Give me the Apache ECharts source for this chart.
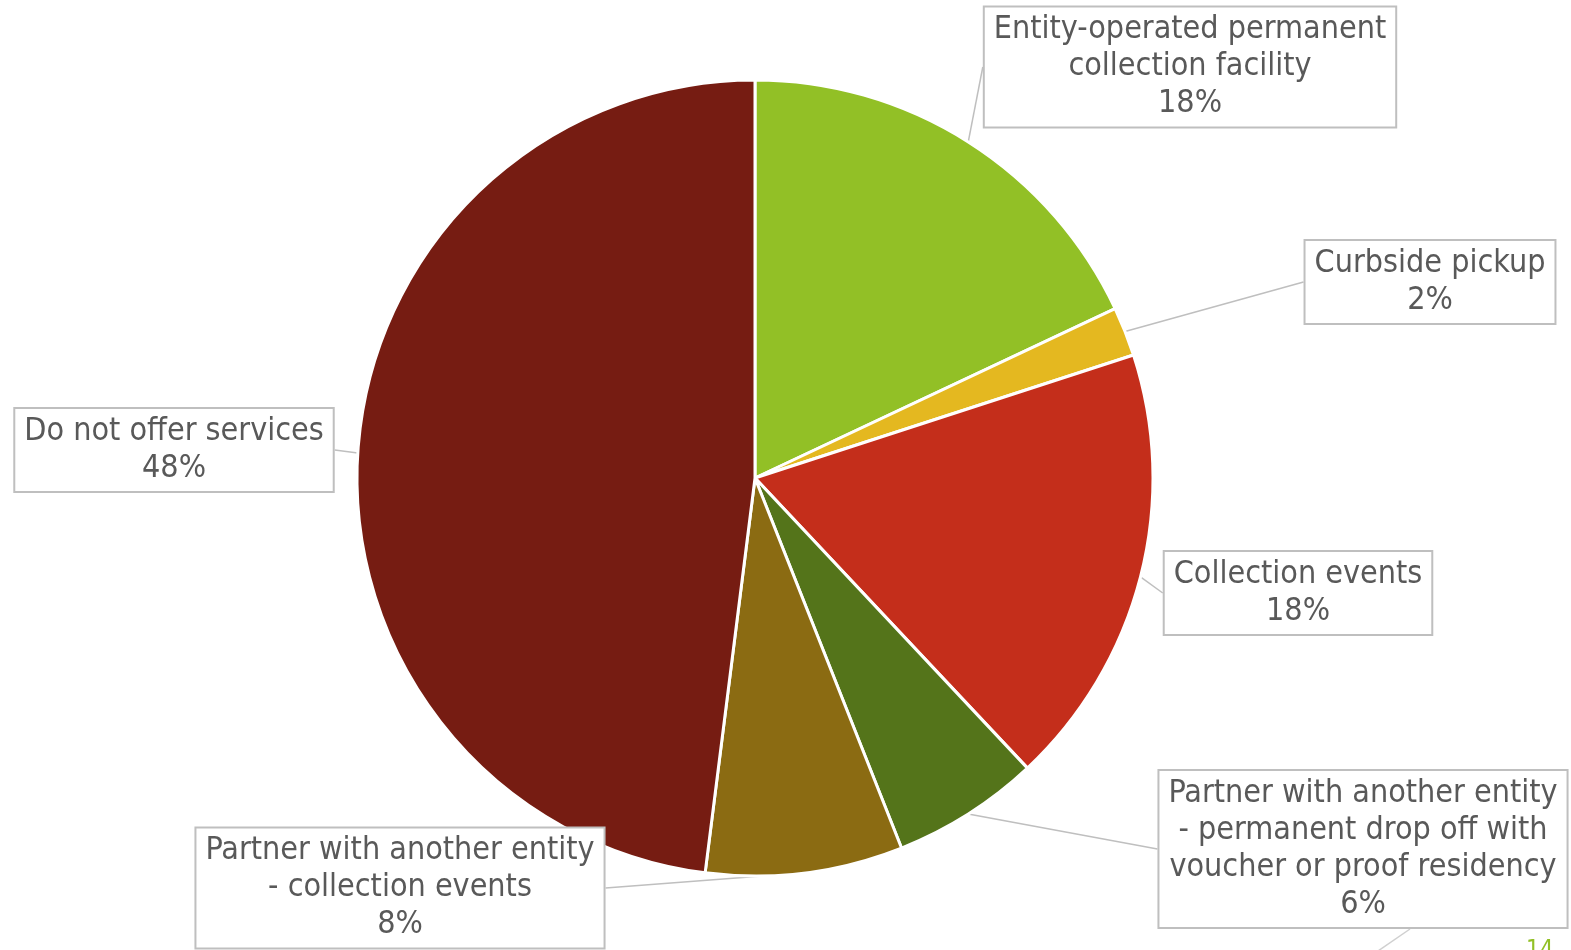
<!DOCTYPE html>
<html>
<head>
<meta charset="utf-8">
<script src="https://cdn.jsdelivr.net/npm/echarts@6/dist/echarts.min.js"></script>
<style>
html,body{margin:0;padding:0;background:#fff;}
#chart{width:1571px;height:950px;}
</style>
</head>
<body>
<div id="chart"></div>
<script>
// ---- data ----
const categories = [
  'Entity-operated permanent\ncollection facility',
  'Curbside pickup',
  'Collection events',
  'Partner with another entity\n- permanent drop off with\nvoucher or proof residency',
  'Partner with another entity\n- collection events',
  'Do not offer services'
];
const shares = [18, 2, 18, 6, 8, 48];

// ---- styling / layout ----
const colors = ['#92c026', '#e4b820', '#c42e1b', '#54741a', '#8b6b12', '#761c12'];
const labelCenters = [
  [1190, 67], [1430, 282], [1298, 593], [1363, 849], [400, 888], [174, 450]
];

const chart = echarts.init(document.getElementById('chart'), null, {renderer: 'canvas'});
chart.setOption({
  animation: false,
  backgroundColor: '#ffffff',
  color: colors,
  graphic: [{
    type: 'text', left: 1526, top: 939,
    style: {text: '14', fill: '#92c026', font: '24px "DejaVu Sans Condensed"'}
  }, {
    type: 'line',
    shape: {x1: 1378, y1: 951, x2: 1410, y2: 929},
    style: {stroke: '#d0d0d0', lineWidth: 1.5}
  }],
  series: [{
    type: 'pie',
    center: [755, 478],
    radius: 398,
    startAngle: 90,
    clockwise: true,
    avoidLabelOverlap: false,
    itemStyle: {borderColor: '#ffffff', borderWidth: 3},
    label: {
      show: true,
      formatter: p => p.name + '\n' + p.value + '%',
      fontFamily: '"DejaVu Sans Condensed"',
      fontSize: 32,
      lineHeight: 37,
      color: '#595959',
      align: 'center',
      backgroundColor: '#ffffff',
      borderColor: '#bfbfbf',
      borderWidth: 2,
      padding: [4, 9, 4, 9]
    },
    labelLine: {
      show: true, length: 15, length2: 0, smooth: false,
      lineStyle: {color: '#bfbfbf', width: 1.5}
    },
    labelLayout: function (params) {
      const c = labelCenters[params.dataIndex];
      return {x: c[0], y: c[1], align: 'center', verticalAlign: 'middle'};
    },
    emphasis: {disabled: true},
    data: categories.map((n, i) => ({name: n, value: shares[i]}))
  }]
});
</script>
</body>
</html>
